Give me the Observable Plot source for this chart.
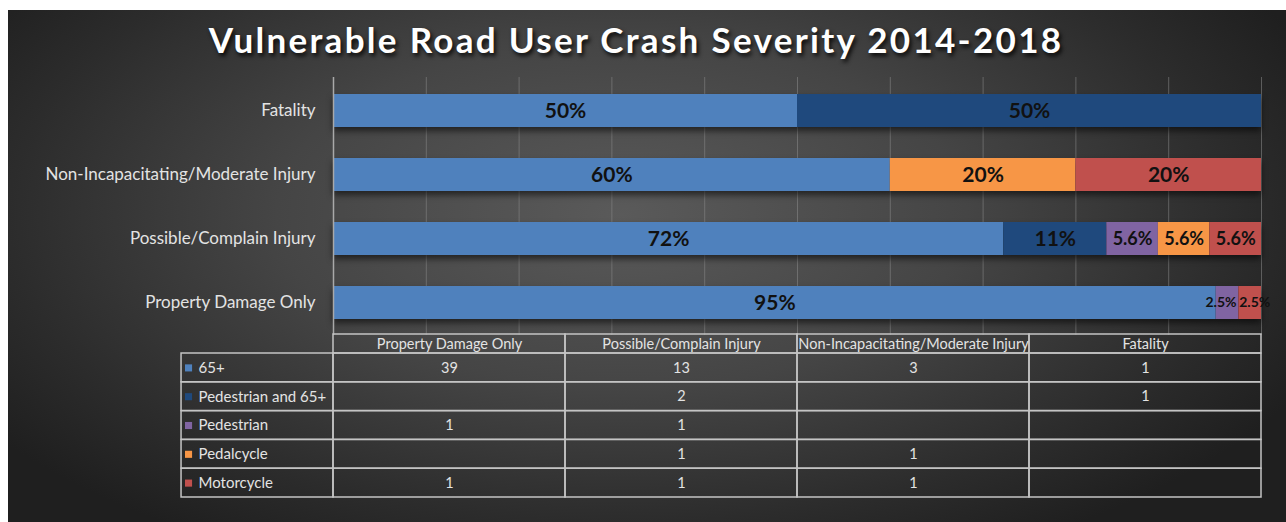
<!DOCTYPE html>
<html>
<head>
<meta charset="utf-8">
<script src="https://cdn.jsdelivr.net/npm/d3@7"></script>
<script src="https://cdn.jsdelivr.net/npm/@observablehq/plot@0.6"></script>
<style>
  html, body { margin: 0; padding: 0; background: #fff; }
  #wrap { position: relative; width: 1286px; height: 522px; overflow: hidden; background: #fff; font-family: Lato, "Open Sans", sans-serif; }
  #panel { position: absolute; left: 8px; top: 10px; right: 0; bottom: 0;
    background: radial-gradient(ellipse 60% 75% at 48% 40%, #5a5a5a 0%, #454545 45%, #2c2c2c 80%, #1f1f1f 100%); }
  #title { position: absolute; left: 0; width: 1272px; top: 18px; text-align: center;
    color: #fff; font-family: Lato, sans-serif; font-weight: 700; font-size: 35px; letter-spacing: 2.3px;
    text-shadow: 2px 3px 4px rgba(0,0,0,0.85); }
  #bars { position: absolute; left: 0; top: 60px; }
  #table { position: absolute; left: 0; top: 333px; }
  g[aria-label="bar"] { filter: drop-shadow(0px 4px 3px rgba(0,0,0,0.55)); }
</style>
</head>
<body>
<div id="wrap">
  <div id="panel"></div>
  <div id="title">Vulnerable Road User Crash Severity 2014-2018</div>
  <div id="bars"></div>
  <div id="table"></div>
</div>
<script>
// Categories in table column order
const categories = ["Property Damage Only", "Possible/Complain Injury", "Non-Incapacitating/Moderate Injury", "Fatality"];
// Bar order, top to bottom
const barOrder = ["Fatality", "Non-Incapacitating/Moderate Injury", "Possible/Complain Injury", "Property Damage Only"];
const seriesNames = ["65+", "Pedestrian and 65+", "Pedestrian", "Pedalcycle", "Motorcycle"];
const seriesColors = ["#4f81bd", "#1f497d", "#8064a2", "#f79646", "#c0504d"];

// Counts per series (table column order)
const counts65 = [39, 13, 3, 1];
const countsPed65 = [null, 2, null, 1];
const countsPed = [1, 1, null, null];
const countsPedal = [null, 1, 1, null];
const countsMoto = [1, 1, 1, null];

// Percentage labels shown on the bars (table column order)
const labels65 = ["95%", "72%", "60%", "50%"];
const labelsPed65 = [null, "11%", null, "50%"];
const labelsPed = ["2.5%", "5.6%", null, null];
const labelsPedal = [null, "5.6%", "20%", null];
const labelsMoto = ["2.5%", "5.6%", "20%", null];

const countSeries = [counts65, countsPed65, countsPed, countsPedal, countsMoto];
const labelSeries = [labels65, labelsPed65, labelsPed, labelsPedal, labelsMoto];

const rows = [];
seriesNames.forEach((s, k) => {
  categories.forEach((c, j) => {
    const v = countSeries[k][j];
    if (v) rows.push({series: s, category: c, count: v, label: labelSeries[k][j]});
  });
});

const txt = "#e3e3e3";
const font = "Lato, 'Open Sans', sans-serif";
const small = d => d.label === "2.5%";

const stackedText = (textFn, extra) => Plot.text(rows, Plot.stackX({
  x: "count", y: "category", z: "series", text: textFn, offset: "normalize",
  fill: "#111", fontWeight: "bold", ...extra
}));

const bars = Plot.plot({
  width: 1286, height: 276,
  marginLeft: 333, marginRight: 25, marginTop: 17, marginBottom: 1,
  style: {background: "transparent", fontFamily: font, overflow: "visible"},
  x: {domain: [0, 1], axis: null},
  y: {domain: barOrder, paddingInner: 0.49, paddingOuter: 0.245, label: null, axis: null},
  color: {domain: seriesNames, range: seriesColors},
  marks: [
    Plot.gridX({ticks: 10, stroke: "#8a8a8a", strokeOpacity: 0.55, strokeWidth: 1}),
    Plot.barX(rows, Plot.stackX({x: "count", y: "category", fill: "series", offset: "normalize"})),
    stackedText(d => small(d) ? "" : d.label, {fontSize: d => d.label === "5.6%" ? 18 : 21}),
    stackedText(d => small(d) && d.series === "Pedestrian" ? d.label : "", {fontSize: 14, textAnchor: "end", dx: 9}),
    stackedText(d => small(d) && d.series === "Motorcycle" ? d.label : "", {fontSize: 14, textAnchor: "start", dx: -11}),
    Plot.ruleX([0], {stroke: "#a9a9a9", strokeWidth: 1.5}),
    Plot.axisY({tickSize: 0, tickPadding: 18, fontSize: 17, color: txt, label: null})
  ]
});
document.getElementById("bars").append(bars);

// Table below the chart
const hdr = 0.66;   // header row height relative to body rows
const lab = 0.655;  // label column width relative to data columns
const cells = [];
seriesNames.forEach((s, i) => {
  categories.forEach((c, j) => {
    cells.push({i, j, count: countSeries[i][j]});
  });
});
const line = "#c4c4c4";

const table = Plot.plot({
  width: 1286, height: 166,
  marginLeft: 333, marginRight: 25, marginTop: 1, marginBottom: 2,
  style: {background: "transparent", fontFamily: font, overflow: "visible"},
  x: {domain: [0, 4], axis: null},
  y: {domain: [-hdr, 5], reverse: true, axis: null},
  color: {domain: seriesNames, range: seriesColors},
  marks: [
    Plot.rect(categories, {x1: (d, j) => j, x2: (d, j) => j + 1, y1: () => -hdr, y2: () => 0, fill: "none", stroke: line, strokeWidth: 1.5}),
    Plot.text(categories, {x: (d, j) => j + 0.5, y: () => -hdr / 2, text: d => d, fill: txt, fontSize: 14.5}),
    Plot.rect(cells, {x1: d => d.j, x2: d => d.j + 1, y1: d => d.i, y2: d => d.i + 1, fill: "none", stroke: line, strokeWidth: 1.5}),
    Plot.text(cells.filter(d => d.count != null), {x: d => d.j + 0.5, y: d => d.i + 0.5, text: d => String(d.count), fill: txt, fontSize: 14.5}),
    Plot.rect(seriesNames, {x1: () => -lab, x2: () => 0, y1: (d, i) => i, y2: (d, i) => i + 1, fill: "none", stroke: line, strokeWidth: 1.5}),
    Plot.dot(seriesNames, {x: () => -lab, y: (d, i) => i + 0.5, dx: 7, symbol: "square", r: 4, fill: d => d, stroke: null}),
    Plot.text(seriesNames, {x: () => -lab, y: (d, i) => i + 0.5, dx: 17, textAnchor: "start", text: d => d, fill: txt, fontSize: 15})
  ]
});
document.getElementById("table").append(table);
</script>
</body>
</html>
